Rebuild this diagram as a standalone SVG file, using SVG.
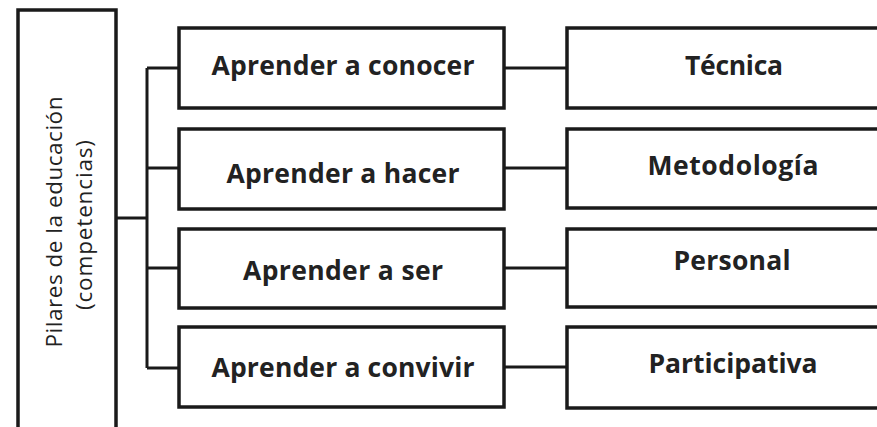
<svg xmlns="http://www.w3.org/2000/svg" width="877" height="427" viewBox="0 0 877 427">
<style>
.box{fill:#fff;stroke:#1a1a1a;stroke-width:3.5}
.con{fill:none;stroke:#1a1a1a;stroke-width:3}
.t{font-family:"Open Sans","Liberation Sans",sans-serif;font-weight:bold;font-size:26.5px;fill:#222;text-anchor:middle}
.v{font-family:"Open Sans","Liberation Sans",sans-serif;font-size:22.5px;fill:#222;text-anchor:middle}
</style>
<rect width="877" height="427" fill="#fff"/>
<g id="connectors">
<path class="con" d="M116 218H147M147 68V368M147 68H179M147 168H179M147 268H179M147 368H179"/>
<path class="con" d="M504 68H567M504 168H567M504 268H567M504 367H567"/>
</g>
<g id="pilares">
<rect class="box" x="18" y="10" width="98" height="430"/>
<text class="v" transform="translate(62,222) rotate(-90)" textLength="251">Pilares de la  educación</text>
<text class="v" transform="translate(92,225) rotate(-90)" textLength="170">(competencias)</text>
</g>
<g id="conocer">
<rect class="box" x="179" y="28" width="325" height="80"/>
<text class="t" x="343" y="75" textLength="263">Aprender a conocer</text>
</g>
<g id="hacer">
<rect class="box" x="179" y="129" width="325" height="80"/>
<text class="t" x="343" y="183" textLength="233">Aprender a hacer</text>
</g>
<g id="ser">
<rect class="box" x="179" y="229" width="325" height="79"/>
<text class="t" x="343" y="280" textLength="200">Aprender a ser</text>
</g>
<g id="convivir">
<rect class="box" x="179" y="327" width="325" height="80"/>
<text class="t" x="343" y="377" textLength="263">Aprender a convivir</text>
</g>
<g id="tecnica">
<rect class="box" x="567" y="28" width="340" height="80"/>
<text class="t" x="734" y="75" textLength="98">Técnica</text>
</g>
<g id="metodologia">
<rect class="box" x="567" y="129" width="340" height="79"/>
<text class="t" x="733" y="175" textLength="171">Metodología</text>
</g>
<g id="personal">
<rect class="box" x="567" y="229" width="340" height="78"/>
<text class="t" x="732" y="270" textLength="117">Personal</text>
</g>
<g id="participativa">
<rect class="box" x="567" y="327" width="340" height="81"/>
<text class="t" x="733" y="373" textLength="169">Participativa</text>
</g>
</svg>
